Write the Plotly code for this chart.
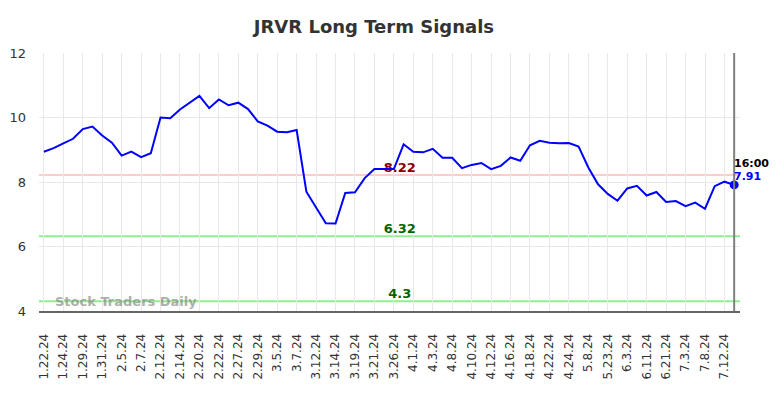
import plotly.graph_objects as go

tick_labels = ["1.22.24", "1.24.24", "1.29.24", "1.31.24", "2.5.24", "2.7.24", "2.12.24", "2.14.24",
               "2.20.24", "2.22.24", "2.27.24", "2.29.24", "3.5.24", "3.7.24", "3.12.24", "3.14.24",
               "3.19.24", "3.21.24", "3.26.24", "4.1.24", "4.3.24", "4.8.24", "4.10.24", "4.12.24",
               "4.16.24", "4.18.24", "4.22.24", "4.24.24", "5.8.24", "5.23.24", "6.3.24", "6.11.24",
               "6.21.24", "7.3.24", "7.8.24", "7.12.24"]

values = [8.94, 9.05, 9.20, 9.34, 9.64, 9.72, 9.44, 9.22, 8.82, 8.94,
          8.77, 8.89, 10.00, 9.98, 10.25, 10.45, 10.67, 10.29, 10.56, 10.38,
          10.46, 10.26, 9.88, 9.75, 9.56, 9.54, 9.61, 7.70, 7.22, 6.72,
          6.71, 7.66, 7.68, 8.12, 8.40, 8.40, 8.40, 9.17, 8.94, 8.92,
          9.03, 8.75, 8.75, 8.43, 8.53, 8.59, 8.40, 8.50, 8.76, 8.66,
          9.14, 9.28, 9.22, 9.20, 9.21, 9.10, 8.45, 7.93, 7.63, 7.42,
          7.80, 7.88, 7.58, 7.69, 7.38, 7.41, 7.25, 7.36, 7.17, 7.87,
          8.01, 7.91]

resistance = 8.22
support_levels = [6.32, 4.3]
last_label_time = "16:00"

x_idx = list(range(len(values)))
tick_vals = [i * 2 for i in range(len(tick_labels))]
last_x = x_idx[-1]
last_y = values[-1]
lab_x = 36.6

fig = go.Figure()
# level labels drawn first so the price line passes over them
fig.add_trace(go.Scatter(x=[lab_x], y=[resistance], mode="text", text=["<b>8.22</b>"],
                         textposition="top center", hoverinfo="skip", showlegend=False,
                         textfont=dict(color="#8b0000", size=13, family="DejaVu Sans")))
fig.add_trace(go.Scatter(x=[lab_x, lab_x], y=support_levels, mode="text",
                         text=["<b>6.32</b>", "<b>4.3</b>"],
                         textposition="top center", hoverinfo="skip", showlegend=False,
                         textfont=dict(color="#006400", size=13, family="DejaVu Sans")))
fig.add_trace(go.Scatter(x=x_idx, y=values, mode="lines",
                         line=dict(color="#0000ff", width=2), hoverinfo="skip", showlegend=False))
fig.add_trace(go.Scatter(x=[last_x], y=[last_y], mode="markers",
                         marker=dict(color="#0000ff", size=9), showlegend=False))

# horizontal level lines
fig.add_shape(type="line", xref="paper", x0=0, x1=1, yref="y", y0=resistance, y1=resistance,
              line=dict(color="#ffcccc", width=2), layer="below")
for s in support_levels:
    fig.add_shape(type="line", xref="paper", x0=0, x1=1, yref="y", y0=s, y1=s,
                  line=dict(color="#90ee90", width=2), layer="below")

# vertical marker at last point
fig.add_shape(type="line", xref="x", x0=last_x, x1=last_x, yref="paper", y0=0, y1=1,
              line=dict(color="#808080", width=2))

fig.add_annotation(x=last_x, y=last_y, text="<b>" + last_label_time + "</b>", showarrow=False,
                   xanchor="left", yanchor="middle", xshift=-2, yshift=21,
                   font=dict(color="#000000", size=11, family="DejaVu Sans"))
fig.add_annotation(x=last_x, y=last_y, text="<b>7.91</b>", showarrow=False,
                   xanchor="left", yanchor="middle", xshift=-2, yshift=8,
                   font=dict(color="#0000ff", size=11, family="DejaVu Sans"))

fig.add_annotation(xref="paper", yref="y", x=0.02, y=4.3, text="<b>Stock Traders Daily</b>",
                   showarrow=False, xanchor="left", yanchor="middle",
                   font=dict(color="rgba(128,128,128,0.65)", size=13, family="DejaVu Sans"))

fig.update_layout(
    width=784, height=398,
    margin=dict(l=39, r=44, t=53, b=87, autoexpand=False),
    paper_bgcolor="white", plot_bgcolor="white",
    title=dict(text="<b>JRVR Long Term Signals</b>", x=0.477, xanchor="center", y=0.932, yanchor="middle",
               font=dict(size=18, color="#333333", family="DejaVu Sans")),
    font=dict(family="DejaVu Sans"),
    showlegend=False,
)
fig.update_xaxes(range=[-0.5, 71.6], tickmode="array", tickvals=tick_vals, ticktext=tick_labels,
                 tickangle=-90, showgrid=True, gridcolor="#e8e8e8", gridwidth=1,
                 showline=True, linecolor="#666666", linewidth=2, ticks="", automargin=False,
                 ticklabelstandoff=16,
                 tickfont=dict(size=12, color="#333333", family="DejaVu Sans"), zeroline=False)
fig.update_yaxes(range=[4, 12], tickvals=[4, 6, 8, 10, 12], showgrid=True, gridcolor="#e8e8e8",
                 gridwidth=1, showline=False, zeroline=False, ticks="", ticklabelstandoff=12,
                 automargin=False,
                 tickfont=dict(size=13, color="#333333", family="DejaVu Sans"))

fig.write_html("out.html", config={"displayModeBar": False},
               post_script="document.body.style.margin='0px';")
